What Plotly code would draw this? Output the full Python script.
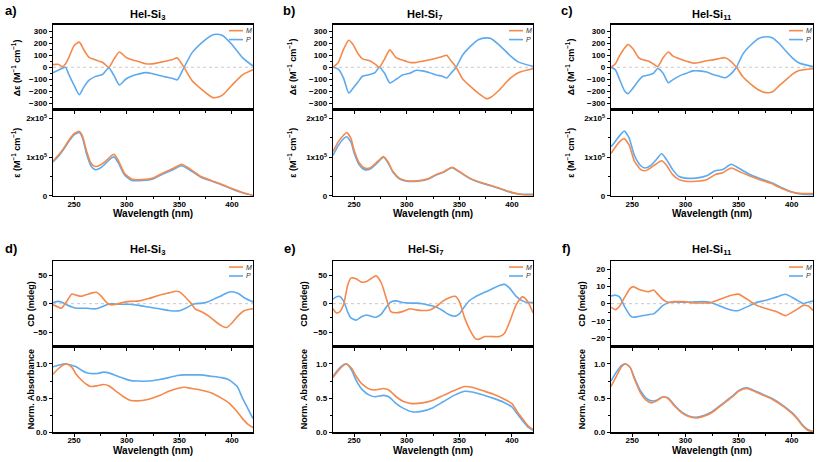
import plotly.graph_objects as go

W, H = 817, 462
ORANGE = "#F4894B"
BLUE = "#5DAAEF"
FONT = "Liberation Sans"

# ---------------- data (wavelength in nm) ----------------
# Panel a: Hel-Si3, delta-epsilon (M^-1 cm^-1)
wl_a_cd = [230, 235, 239, 242, 245, 250, 255, 259, 264, 270, 277, 283, 288, 293, 299, 305, 312, 318, 324, 331,
           337, 343, 348, 354, 362, 372, 381, 385, 391, 400, 410, 420]
a_cd_M = [22, 25, 5, 30, 80, 180, 210, 150, 85, 62, 42, 0, 70, 128, 85, 62, 46, 30, 28, 40,
          50, 62, 78, 5, -110, -190, -250, -253, -232, -150, -63, -20]
a_cd_P = [-45, -25, -8, 0, -60, -150, -230, -170, -110, -78, -60, -5, -70, -148, -100, -72, -55, -45, -52, -68,
          -80, -92, -105, -10, 120, 210, 268, 275, 265, 190, 80, 10]
# Panel a: epsilon (x1e5 M^-1 cm^-1)
wl_a_abs = [230, 235, 240, 245, 250, 255, 258, 262, 266, 270, 275, 280, 285, 288, 292, 298, 305, 315, 325, 335,
            345, 352, 360, 370, 380, 390, 400, 410, 420]
a_abs_M = [0.90, 1.05, 1.23, 1.44, 1.61, 1.67, 1.55, 1.15, 0.85, 0.76, 0.80, 0.90, 1.03, 1.08, 0.92, 0.58, 0.43, 0.42, 0.46, 0.60,
           0.72, 0.82, 0.70, 0.51, 0.40, 0.30, 0.19, 0.09, 0.01]
a_abs_P = [0.88, 1.02, 1.20, 1.41, 1.58, 1.64, 1.50, 1.08, 0.78, 0.68, 0.72, 0.84, 0.97, 1.01, 0.86, 0.54, 0.40, 0.40, 0.44, 0.57,
           0.69, 0.78, 0.67, 0.49, 0.39, 0.29, 0.18, 0.08, 0.01]

# Panel b: Hel-Si7
wl_b_cd = [230, 235, 240, 245, 249, 254, 258, 265, 270, 274, 279, 284, 290, 296, 303, 309, 315, 322, 328, 334,
           338, 342, 347, 353, 360, 368, 376, 380, 388, 398, 406, 420]
b_cd_M = [0, 40, 150, 225, 190, 110, 70, 55, 27, 0, 68, 145, 80, 60, 40, 40, 50, 62, 75, 90,
          100, 55, 0, -95, -155, -215, -262, -250, -190, -95, -45, -12]
b_cd_P = [0, -15, -90, -215, -175, -120, -75, -60, -45, 0, -50, -130, -100, -65, -50, -25, -30, -45, -65, -75,
          -90, -50, 0, 100, 170, 230, 245, 240, 185, 100, 45, 8]
wl_b_abs = [230, 235, 240, 243, 247, 250, 255, 260, 265, 270, 275, 278, 282, 287, 293, 300, 310, 320, 328, 335,
            343, 350, 360, 370, 380, 390, 400, 410, 420]
b_abs_M = [1.15, 1.40, 1.57, 1.64, 1.49, 1.19, 0.85, 0.72, 0.72, 0.83, 0.96, 1.02, 0.89, 0.63, 0.46, 0.39, 0.39, 0.44, 0.55, 0.62,
           0.74, 0.63, 0.46, 0.35, 0.27, 0.18, 0.09, 0.03, 0.02]
b_abs_P = [1.05, 1.30, 1.48, 1.53, 1.40, 1.12, 0.80, 0.68, 0.69, 0.80, 0.94, 1.00, 0.87, 0.61, 0.44, 0.38, 0.38, 0.43, 0.54, 0.61,
           0.73, 0.62, 0.45, 0.34, 0.26, 0.17, 0.08, 0.04, 0.04]

# Panel c: Hel-Si11
wl_c_cd = [230, 234, 238, 243, 246, 251, 256, 260, 265, 270, 274, 279, 284, 288, 295, 301, 307, 313, 320, 326,
           332, 337, 341, 348, 354, 362, 369, 376, 382, 388, 394, 401, 407, 420]
c_cd_M = [0, 27, 95, 163, 190, 150, 80, 62, 52, 27, 5, 80, 128, 95, 68, 50, 35, 40, 55, 62,
          73, 80, 62, 0, -80, -145, -190, -212, -205, -155, -110, -55, -27, -12]
c_cd_P = [0, -20, -100, -200, -220, -170, -110, -75, -65, -50, -10, -50, -130, -105, -70, -50, -30, -30, -40, -60,
          -75, -88, -70, 0, 110, 190, 240, 255, 245, 200, 140, 75, 35, 5]
wl_c_abs = [230, 235, 240, 242.5, 247, 252, 258, 262, 267, 272, 277.6, 282, 288, 294, 300, 310, 320, 328, 335, 343,
            350, 360, 370, 380, 390, 400, 410, 420]
c_abs_M = [1.10, 1.30, 1.45, 1.48, 1.32, 0.90, 0.68, 0.65, 0.72, 0.82, 0.91, 0.80, 0.55, 0.42, 0.38, 0.38, 0.42, 0.55, 0.60, 0.72,
           0.64, 0.52, 0.42, 0.33, 0.20, 0.10, 0.06, 0.06]
c_abs_P = [1.27, 1.45, 1.62, 1.68, 1.50, 1.05, 0.78, 0.72, 0.78, 0.92, 1.09, 0.95, 0.68, 0.50, 0.46, 0.46, 0.52, 0.65, 0.68, 0.82,
           0.72, 0.56, 0.45, 0.35, 0.22, 0.10, 0.04, 0.03]

# Panel d: Hel-Si3, CD (mdeg) and normalised absorbance
wl_d_cd = [230, 235, 238, 243, 248, 252, 257, 262, 267, 271, 276, 281, 285, 290, 296, 303, 312, 321, 331, 340,
           347, 351, 356, 361, 365, 372, 378, 384, 391, 395, 400, 406, 412, 420]
d_cd_M = [-2, -6, -8, 4, 17, 15, 13, 16, 19, 20, 13, 2, -2, -1, 2, 4, 5, 9, 15, 19,
          22, 20, 11, 1, -9, -15, -22, -31, -40, -42, -34, -21, -12, -9]
d_cd_P = [2, 4, 3, -2, -6, -8, -8, -8, -9, -9, -6, -2, 0, -1, -1, -1, -3, -6, -9, -12,
          -13, -12, -8, -3, 0, 1, 4, 9, 15, 19, 21, 18, 10, 3]
wl_d_abs = [230, 235, 240, 243, 248, 252, 258, 262, 266, 272, 278, 283, 290, 297, 303, 310, 320, 330, 340, 348,
            355, 362, 370, 380, 390, 397, 405, 410, 415, 420]
d_abs_M = [0.85, 0.93, 0.99, 1.00, 0.95, 0.85, 0.75, 0.70, 0.67, 0.68, 0.70, 0.68, 0.60, 0.52, 0.47, 0.46, 0.48, 0.53, 0.60, 0.64,
           0.66, 0.64, 0.62, 0.58, 0.50, 0.43, 0.30, 0.20, 0.12, 0.07]
d_abs_P = [0.96, 0.98, 1.00, 1.00, 0.98, 0.96, 0.90, 0.87, 0.86, 0.86, 0.88, 0.87, 0.83, 0.79, 0.76, 0.75, 0.75, 0.77, 0.80, 0.83,
           0.84, 0.84, 0.84, 0.82, 0.80, 0.77, 0.67, 0.50, 0.35, 0.20]

# Panel e: Hel-Si7
wl_e_cd = [230, 233, 236, 240, 244, 247, 252, 257, 262, 266, 271, 276, 281, 285, 290, 296, 303, 309, 315, 322,
           328, 334, 341, 346, 350, 355, 360, 365, 368, 374, 380, 388, 393, 398, 404, 410, 415, 420]
e_cd_M = [-9, -16, -15, -2, 33, 45, 44, 38, 39, 44, 49, 36, 7, -14, -16, -14, -9, -11, -12, -11,
          -5, 4, 11, 13, 4, -25, -46, -61, -63, -58, -58, -58, -52, -31, -2, 12, 4, -16]
e_cd_P = [8, 12, 13, 5, -15, -25, -29, -23, -20, -22, -24, -18, -5, 3, 5, 2, 1, 1, 0, -3,
          -6, -12, -20, -22, -18, -5, 6, 12, 15, 20, 25, 32, 34, 27, 13, 5, 2, 2]
wl_e_abs = [230, 235, 240, 243, 248, 252, 258, 265, 270, 278, 283, 290, 297, 305, 315, 325, 335, 345, 355, 362,
            372, 382, 392, 400, 405, 410, 415, 420]
e_abs_M = [0.80, 0.90, 0.98, 1.00, 0.93, 0.82, 0.70, 0.63, 0.62, 0.64, 0.62, 0.52, 0.45, 0.42, 0.43, 0.47, 0.54, 0.61, 0.67, 0.66,
           0.61, 0.56, 0.49, 0.42, 0.30, 0.20, 0.10, 0.04]
e_abs_P = [0.82, 0.92, 0.99, 1.00, 0.90, 0.76, 0.62, 0.54, 0.52, 0.54, 0.52, 0.42, 0.35, 0.30, 0.31, 0.36, 0.45, 0.54, 0.60, 0.59,
           0.55, 0.50, 0.44, 0.37, 0.27, 0.17, 0.08, 0.03]

# Panel f: Hel-Si11
wl_f_cd = [230, 234, 238, 243, 248, 251, 256, 260, 265, 270, 274, 279, 284, 289, 298, 307, 317, 323, 329, 337,
           345, 350, 354, 361, 367, 376, 386, 394, 401, 408, 411, 416, 420]
f_cd_M = [-2, -3.5, -1.5, 4, 9, 10, 8.5, 7.7, 7, 8, 5.6, 2.3, 0.8, 1.2, 1.2, 0.4, 0.4, 0.4, 1.7, 3.7,
          5.2, 5.6, 4.2, 1.4, -1, -2.9, -4.8, -7, -4.8, -2.1, -1, -1.5, -4]
f_cd_P = [4.5, 5, 4, -2, -7, -8, -7.5, -7, -6.5, -6, -4, -1, 0.5, 1, 0.8, 1, 1.2, 0.8, -0.5, -2.5,
          -4, -4, -3, -1, 0.8, 2, 4, 5.5, 3.5, 1, 0, 1, 1.5]
wl_f_abs = [230, 235, 240, 244, 248, 252, 258, 263, 268, 273, 279, 284, 290, 297, 303, 310, 318, 325, 335, 345,
            350, 357, 362, 372, 382, 392, 400, 405, 410, 415, 420]
f_abs_M = [0.67, 0.82, 0.96, 1.00, 0.95, 0.78, 0.57, 0.47, 0.43, 0.46, 0.52, 0.49, 0.38, 0.28, 0.23, 0.21, 0.24, 0.29, 0.41, 0.53,
           0.60, 0.64, 0.62, 0.55, 0.48, 0.38, 0.28, 0.20, 0.10, 0.03, 0.01]
f_abs_P = [0.75, 0.88, 0.98, 1.00, 0.95, 0.80, 0.60, 0.50, 0.46, 0.47, 0.52, 0.50, 0.39, 0.29, 0.24, 0.22, 0.25, 0.30, 0.42, 0.54,
           0.61, 0.65, 0.63, 0.56, 0.49, 0.39, 0.29, 0.21, 0.11, 0.04, 0.01]

EPS_UNIT = 1e5
titles = ["Hel-Si<sub>3</sub>", "Hel-Si<sub>7</sub>", "Hel-Si<sub>11</sub>"] * 2
letters = ["a)", "b)", "c)", "d)", "e)", "f)"]
series_names = ["M", "P"]

panels = [
    dict(cd=(wl_a_cd, a_cd_M, a_cd_P), ab=(wl_a_abs, a_abs_M, a_abs_P), row=0, col=0),
    dict(cd=(wl_b_cd, b_cd_M, b_cd_P), ab=(wl_b_abs, b_abs_M, b_abs_P), row=0, col=1),
    dict(cd=(wl_c_cd, c_cd_M, c_cd_P), ab=(wl_c_abs, c_abs_M, c_abs_P), row=0, col=2),
    dict(cd=(wl_d_cd, d_cd_M, d_cd_P), ab=(wl_d_abs, d_abs_M, d_abs_P), row=1, col=0),
    dict(cd=(wl_e_cd, e_cd_M, e_cd_P), ab=(wl_e_abs, e_abs_M, e_abs_P), row=1, col=1),
    dict(cd=(wl_f_cd, f_cd_M, f_cd_P), ab=(wl_f_abs, f_abs_M, f_abs_P), row=1, col=2),
]

# ---------------- layout geometry (pixels) ----------------
COLS = [(53, 253), (333, 533), (611, 813)]
ROWS = [dict(cd=(25, 111), ab=(111, 198), title_y=15, letter_y=11, wl_y=216),
        dict(cd=(264, 350), ab=(350, 437), title_y=253, letter_y=251, wl_y=455)]
LETTER_X = [11, 289, 567, 11, 290, 566]
TITLE_X = [147, 424, 712, 147, 425, 712]
YTITLE_X = [16, 292, 570, 31, 304, 582]

def px(x):
    return x / W

def py(y):
    return 1 - y / H

tickfont = dict(family=FONT, size=8, color="black", weight="bold")
fig = go.Figure()
layout = dict(width=W, height=H, margin=dict(l=0, r=0, t=0, b=0),
              paper_bgcolor="white", plot_bgcolor="white", showlegend=False)
shapes, annotations = [], []

def ann(x, y, text, size, angle=0, xanchor="center", italic=False, color="black", bold=True, pad=1):
    annotations.append(dict(x=px(x), y=py(y), xref="paper", yref="paper", text=text, showarrow=False,
                            textangle=angle, xanchor=xanchor, yanchor="middle", borderpad=pad,
                            font=dict(family=FONT, size=size, color=color,
                                      weight="bold" if bold else "normal",
                                      style="italic" if italic else "normal")))

for i, p in enumerate(panels):
    r = ROWS[p["row"]]
    cx0, cx1 = COLS[p["col"]]
    top_row = p["row"] == 0
    for j, part in enumerate(["cd", "ab"]):
        n = i * 2 + j + 1
        xa, ya = ("x", "y") if n == 1 else (f"x{n}", f"y{n}")
        y0p, y1p = r[part]
        wl, vm, vp = p[part]
        scale = EPS_UNIT if (part == "ab" and top_row) else 1
        fig.add_trace(go.Scatter(x=wl, y=[v * scale for v in vp], mode="lines", name="P",
                                 line=dict(color=BLUE, width=1.6, shape="spline", smoothing=0.6),
                                 xaxis=xa, yaxis=ya))
        fig.add_trace(go.Scatter(x=wl, y=[v * scale for v in vm], mode="lines", name="M",
                                 line=dict(color=ORANGE, width=1.6, shape="spline", smoothing=0.6),
                                 xaxis=xa, yaxis=ya))
        xkey = "xaxis" if n == 1 else f"xaxis{n}"
        ykey = "yaxis" if n == 1 else f"yaxis{n}"
        layout[xkey] = dict(domain=[px(cx0), px(cx1)], range=[230, 420], anchor=ya,
                            showline=True, mirror=True, linecolor="black", linewidth=1.3,
                            showgrid=False, zeroline=False, ticks="outside", ticklen=3, tickwidth=1,
                            tickcolor="black", tickmode="array", tickvals=[250, 300, 350, 400],
                            minor=dict(tickvals=[275, 325, 375], ticks="outside", ticklen=2, tickcolor="black"),
                            showticklabels=(part == "ab"), tickfont=tickfont, ticklabelstandoff=-3)
        ydict = dict(domain=[py(y1p), py(y0p)], anchor=xa, showline=True, mirror=True, linecolor="black",
                     linewidth=1.3, showgrid=False, zeroline=False, ticks="outside", ticklen=3, tickwidth=1,
                     tickcolor="black", tickfont=tickfont)
        if part == "cd":
            if top_row:
                ydict.update(range=[-355, 355], tickmode="array", tickvals=[-300, -200, -100, 0, 100, 200, 300],
                             minor=dict(tickvals=[-250, -150, -50, 50, 150, 250], ticks="outside", ticklen=2, tickcolor="black"))
                ytitle = "Δε (M<sup>−1</sup> cm<sup>−1</sup>)"
            elif i == 5:
                ydict.update(range=[-25, 25], tickmode="array", tickvals=[-20, -10, 0, 10, 20],
                             minor=dict(tickvals=[-15, -5, 5, 15], ticks="outside", ticklen=2, tickcolor="black"))
                ytitle = "CD (mdeg)"
            else:
                ydict.update(range=[-75, 75], tickmode="array", tickvals=[-50, 0, 50],
                             minor=dict(tickvals=[-25, 25], ticks="outside", ticklen=2, tickcolor="black"))
                ytitle = "CD (mdeg)"
            shapes.append(dict(type="line", xref=f"{xa} domain", x0=0, x1=1, yref=ya, y0=0, y1=0,
                               line=dict(color="#C8C8C8", width=1, dash="dot"), layer="below"))
            # legend keys (decoration)
            for k, (nm, colr) in enumerate(zip(series_names, [ORANGE, BLUE])):
                ypx = y0p + 6 + 9 * k
                shapes.append(dict(type="line", xref="paper", yref="paper",
                                   x0=px(cx1 - 24), x1=px(cx1 - 10), y0=py(ypx), y1=py(ypx),
                                   line=dict(color=colr, width=1.6)))
                ann(cx1 - 8, ypx, nm, 7, xanchor="left", italic=True, color="#333333", bold=False, pad=0)
        else:
            if top_row:
                ydict.update(range=[0, 2.23e5], tickmode="array", tickvals=[0, 1e5, 2e5],
                             ticktext=["0", "1x10<sup>5</sup>", "2x10<sup>5</sup>"],
                             minor=dict(tickvals=[0.5e5, 1.5e5], ticks="outside", ticklen=2, tickcolor="black"))
                ytitle = "ε (M<sup>−1</sup> cm<sup>−1</sup>)"
            else:
                ydict.update(range=[0, 1.26], tickmode="array", tickvals=[0, 0.5, 1.0],
                             ticktext=["0.0", "0.5", "1.0"],
                             minor=dict(tickvals=[0.25, 0.75], ticks="outside", ticklen=2, tickcolor="black"))
                ytitle = "Norm. Absorbance"
            ann((cx0 + cx1) / 2, r["wl_y"], "Wavelength (nm)", 10)
        layout[ykey] = ydict
        ann(YTITLE_X[i], (y0p + y1p) / 2, ytitle, 9, angle=-90)
    ann(TITLE_X[i], r["title_y"], titles[i], 11)
    ann(LETTER_X[i], r["letter_y"], letters[i], 13)

layout["shapes"] = shapes
layout["annotations"] = annotations
fig.update_layout(**layout)
fig.write_html("out.html", config={"displayModeBar": False, "staticPlot": True},
               post_script="document.body.style.margin='0px';document.body.style.overflow='hidden';")
